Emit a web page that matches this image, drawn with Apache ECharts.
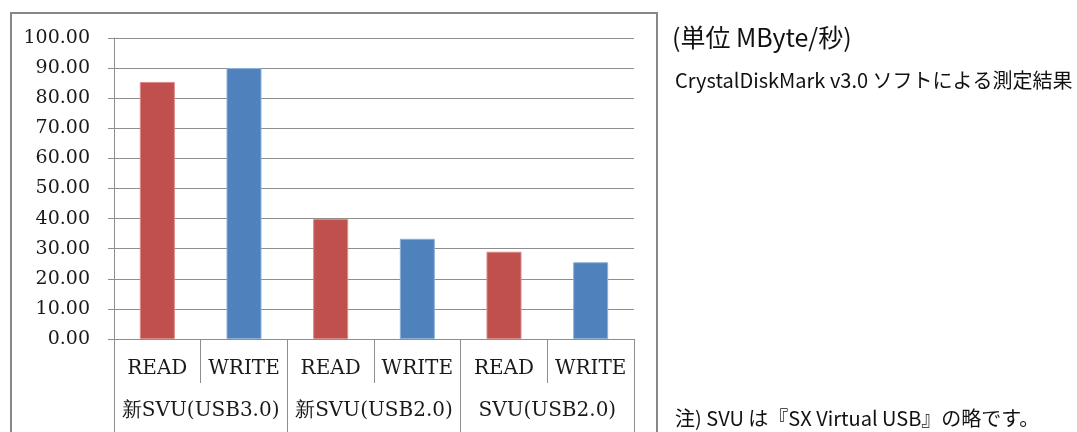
<!DOCTYPE html>
<html>
<head>
<meta charset="utf-8">
<script src="https://cdn.jsdelivr.net/npm/echarts@6/dist/echarts.min.js"></script>
<style>
html, body { margin: 0; padding: 0; background: #fff; }
#main { width: 1077px; height: 432px; }
</style>
</head>
<body>
<div id="main"></div>
<script>
// 測定データ (MByte/秒)
var groups = ['新SVU(USB3.0)', '新SVU(USB2.0)', 'SVU(USB2.0)'];
var subLabels = ['READ', 'WRITE', 'READ', 'WRITE', 'READ', 'WRITE'];
var readValues = [85.4, 39.9, 29.0];
var writeValues = [90.0, 33.3, 25.5];

var myChart = echarts.init(document.getElementById('main'));

// READ / WRITE を交互に並べる
var readData = [], writeData = [];
for (var i = 0; i < groups.length; i++) {
    readData.push(readValues[i], '-');
    writeData.push('-', writeValues[i]);
}

var gray = '#8e8e8e';
var serif = 'DejaVu Serif';

var option = {
    animation: false,
    backgroundColor: '#fff',
    grid: { left: 114, right: 443, top: 38, bottom: 93 },
    xAxis: [
        {
            type: 'category',
            data: subLabels,
            axisLine: { lineStyle: { color: gray, width: 1 } },
            axisTick: { show: true, interval: 0, length: 44, lineStyle: { color: gray } },
            axisLabel: { interval: 0, margin: 20, color: '#1a1a1a', fontFamily: serif, fontSize: 20 }
        },
        {
            type: 'category',
            data: groups,
            position: 'bottom',
            axisLine: { show: false },
            axisTick: { show: true, interval: 0, length: 100, lineStyle: { color: gray } },
            axisLabel: { interval: 0, margin: 62, color: '#1a1a1a', fontFamily: serif, fontSize: 20 }
        }
    ],
    yAxis: {
        type: 'value',
        min: 0,
        max: 100,
        interval: 10,
        axisLine: { show: true, lineStyle: { color: gray } },
        axisTick: { show: true, length: 6, lineStyle: { color: gray } },
        splitLine: { lineStyle: { color: gray, width: 1 } },
        axisLabel: {
            margin: 24,
            color: '#1a1a1a',
            fontFamily: serif,
            fontSize: 19,
            formatter: function (v) { return v.toFixed(2); }
        }
    },
    series: [
        {
            name: 'READ',
            type: 'bar',
            stack: 'rw',
            barWidth: 35,
            data: readData,
            itemStyle: { color: '#C0504D', borderColor: '#d78a88', borderWidth: 1 }
        },
        {
            name: 'WRITE',
            type: 'bar',
            stack: 'rw',
            barWidth: 35,
            data: writeData,
            itemStyle: { color: '#4F81BD', borderColor: '#8fb0d8', borderWidth: 1 }
        }
    ],
    graphic: [
        {
            type: 'rect',
            shape: { x: 11, y: 13, width: 646, height: 440 },
            style: { fill: 'none', stroke: '#878787', lineWidth: 2 },
            silent: true
        },
        {
            type: 'text',
            left: 672,
            top: 25,
            style: { text: '(単位 MByte/秒)', font: '25px "Noto Sans CJK JP"', fill: '#111' }
        },
        {
            type: 'text',
            left: 675,
            top: 70,
            style: { text: 'CrystalDiskMark v3.0 ソフトによる測定結果', font: '20px "Noto Sans CJK JP"', fill: '#111' }
        },
        {
            type: 'text',
            left: 675,
            top: 408,
            style: { text: '注) SVU は『SX Virtual USB』の略です。', font: '20px "Noto Sans CJK JP"', fill: '#111' }
        }
    ]
};

myChart.setOption(option);
</script>
</body>
</html>
